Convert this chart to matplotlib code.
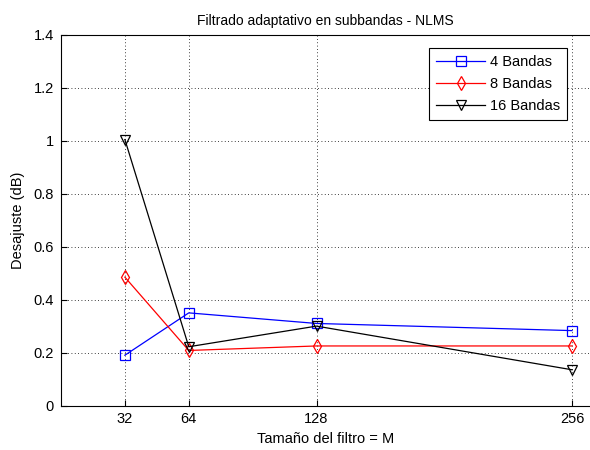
import matplotlib.pyplot as plt

plt.rcParams["font.family"] = ["Liberation Sans", "DejaVu Sans"]

tamanos = [32, 64, 128, 256]
bandas_4 = [0.19, 0.35, 0.31, 0.283]
bandas_8 = [0.485, 0.208, 0.225, 0.225]
bandas_16 = [1.005, 0.222, 0.30, 0.135]

fig = plt.figure(figsize=(5.9, 4.5), dpi=100)
ax = fig.add_axes([61 / 590, 44.5 / 450, 529 / 590, 370.5 / 450])

ax.plot(tamanos, bandas_4, color="blue", lw=0.9, marker="s", ms=7, mfc="none", mew=0.9, label="4 Bandas")
ax.plot(tamanos, bandas_8, color="red", lw=0.9, marker="d", ms=7, mfc="none", mew=0.9, label="8 Bandas")
ax.plot(tamanos, bandas_16, color="black", lw=0.9, marker="v", ms=7, mfc="none", mew=0.9, label="16 Bandas")

ax.set_xlim(0, 265)
ax.set_ylim(0, 1.4)
ax.set_xticks(tamanos)
ax.set_yticks([0, 0.2, 0.4, 0.6, 0.8, 1, 1.2, 1.4])
ax.set_yticklabels(["0", "0.2", "0.4", "0.6", "0.8", "1", "1.2", "1.4"])
ax.grid(True, linestyle=(0, (1, 3)), color="black", lw=0.6)
ax.tick_params(direction="in", labelsize=10.5, length=4, width=0.8, pad=5)
ax.spines["right"].set_visible(False)
for s in ["left", "bottom", "top"]:
    ax.spines[s].set_linewidth(0.8)

ax.set_title("Filtrado adaptativo en subbandas - NLMS", fontsize=10, pad=7)
ax.set_xlabel("Tamaño del filtro = M", fontsize=10.5, labelpad=4)
ax.set_ylabel("Desajuste (dB)", fontsize=10.5, labelpad=6)

leg = ax.legend(loc="upper right", bbox_to_anchor=(0.957, 0.966), fontsize=10.5, fancybox=False,
                edgecolor="black", framealpha=1, handlelength=3.4, borderpad=0.5,
                labelspacing=0.55, handletextpad=0.3, borderaxespad=0)
leg.get_frame().set_linewidth(0.8)

fig.savefig("out.png")
